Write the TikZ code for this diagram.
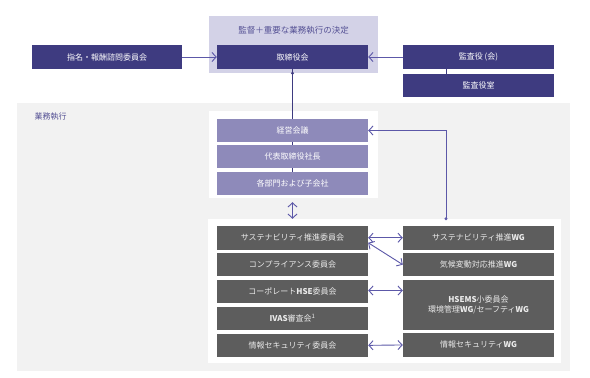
\documentclass[tikz,border=0pt]{standalone}
\usepackage{fontspec}
\setmainfont{Noto Sans CJK JP}
\usetikzlibrary{arrows.meta,positioning}
\definecolor{indigo}{HTML}{3E3B80}
\definecolor{boardlav}{HTML}{D3D2E7}
\definecolor{execlav}{HTML}{8E8ABA}
\definecolor{cmtegray}{HTML}{5D5D5D}
\definecolor{execgray}{HTML}{F2F2F2}
\definecolor{arrowlav}{HTML}{5C58A8}
\definecolor{titlepurple}{HTML}{545094}
\pgfdeclarelayer{back}
\pgfdeclarelayer{mid}
\pgfsetlayers{back,mid,main}

\begin{document}
\begin{tikzpicture}[
  x=1pt, y=-1pt,
  node distance=3pt,
  box/.style={fill=indigo, text=white, font=\fontsize{8}{10}\selectfont, minimum width=151pt, minimum height=24pt, inner sep=0pt, align=center},
  exec/.style={box, fill=execlav, minimum height=23pt},
  cmte/.style={box, fill=cmtegray, text=white!92!black, minimum height=23.5pt},
  panel/.style={fill=white, inner sep=0pt},
  link/.style={draw=indigo, line width=0.9pt},
  oneway/.style={-{Straight Barb[length=1.5mm, width=3.2mm]}, draw=arrowlav, line width=0.9pt},
  arr/.style={{Straight Barb[length=1.5mm, width=3.2mm]}-{Straight Barb[length=1.5mm, width=3.2mm]}, draw=arrowlav, line width=0.9pt}
]
\useasboundingbox (0,0) rectangle (590,378);

% regions behind
\begin{pgfonlayer}{back}
\fill[execgray] (17,103) rectangle (570,371);
\node[panel, fill=boardlav, minimum width=169pt, minimum height=57pt] (boardarea) at (293.5,44.5) {};
\node[panel, minimum width=169pt, minimum height=87pt] (upanel) at (293.5,154.5) {};
\node[panel, minimum width=353pt, minimum height=144pt] (lowpanel) at (384.5,291) {};
\end{pgfonlayer}

\node[text=titlepurple, font=\fontsize{8.5}{10}\selectfont] (boardtitle) at (293.5,30) {監督＋重要な業務執行の決定};
\node[text=titlepurple, font=\fontsize{8}{10}\selectfont, anchor=west] (execlabel) at (31,117) {業務執行};

% governance
\node[box] (board) at (292.5,57) {取締役会};
\node[box, minimum width=150pt] (nomination) at (107,57) {指名・報酬諮問委員会};
\node[box] (auditors) at (478.5,57) {監査役 (会)};
\node[box, minimum height=23pt, below=5pt of auditors] (auditoffice) {監査役室};

% execution
\node[exec] (keiei) at (292.5,130.5) {経営会議};
\node[exec, below=of keiei] (ceo) {代表取締役社長};
\node[exec, below=of ceo] (depts) {各部門および子会社};

% committees
\node[cmte] (s1) at (292.5,237.75) {サステナビリティ推進委員会};
\node[cmte, below=of s1] (compl) {コンプライアンス委員会};
\node[cmte, below=of compl] (hse) {コーポレート{\bfseries HSE}委員会};
\node[cmte, below=of hse] (ivas) {{\bfseries IVAS}審査会\textsuperscript{1}};
\node[cmte, below=of ivas] (infosec) {情報セキュリティ委員会};

% working groups
\node[cmte] (wg1) at (478.5,237.75) {サステナビリティ推進{\bfseries WG}};
\node[cmte, below=of wg1] (wg2) {気候変動対応推進{\bfseries WG}};
\node[cmte, minimum height=50pt, below=of wg2] (hsems) {{\bfseries HSEMS}小委員会\\環境管理{\bfseries WG}/セーフティ{\bfseries WG}};
\node[cmte, below=of hsems] (infowg) {情報セキュリティ{\bfseries WG}};

\begin{pgfonlayer}{mid}
\draw[link] (board) -- (depts);
\end{pgfonlayer}
\fill[indigo] (board |- boardarea.south) circle (1.6pt);

\draw[oneway] (nomination) -- (board);
\draw[oneway] (auditors) -- (board);
\draw[link] ([xshift=-32.5pt]auditors.south) -- ([xshift=-32.5pt]auditoffice.north);

\draw[oneway] ([xshift=-32.5pt]wg1.north |- lowpanel.north) |- (keiei.east);
\fill[arrowlav] ([xshift=-32.5pt]wg1.north |- lowpanel.north) circle (1.6pt);
\draw[arr] ([yshift=-4pt]upanel.south -| depts) -- (lowpanel.north -| depts);

\draw[arr] (s1.east) -- (wg1.west);
\draw[arr] ([yshift=-5pt]s1.east) -- (wg2.west);
\draw[arr] ([yshift=1pt]hse.east) -- ([yshift=1pt]hse.east -| hsems.west);
\draw[arr] (infosec.east) -- (infowg.west);
\end{tikzpicture}
\end{document}
